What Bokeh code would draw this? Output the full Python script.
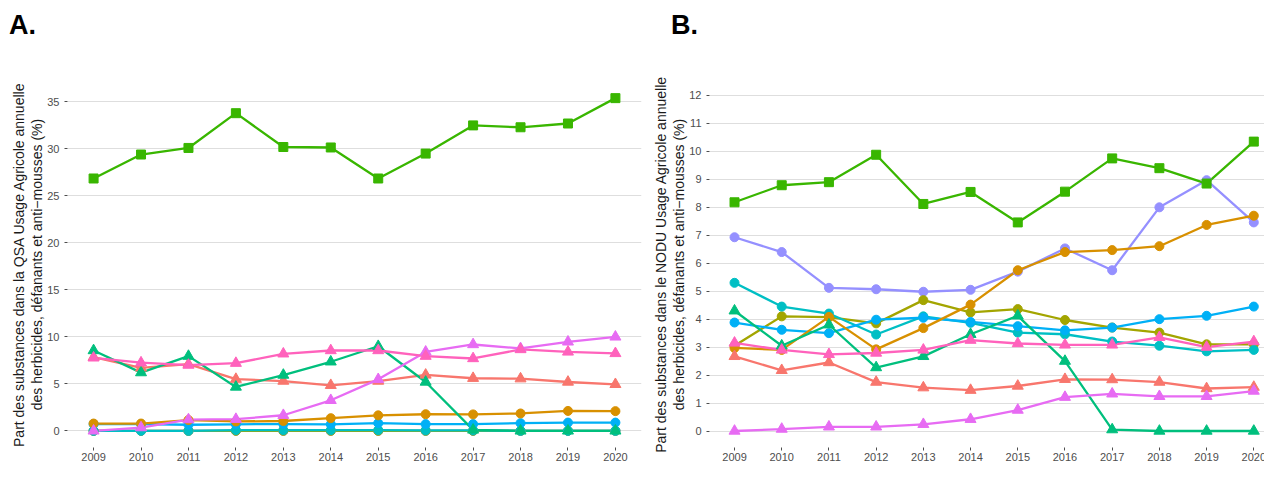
from bokeh.plotting import figure
from bokeh.layouts import row, column
from bokeh.models import Div, FixedTicker, Title
from bokeh.embed import file_html
from bokeh.resources import INLINE

years = [2009, 2010, 2011, 2012, 2013, 2014, 2015, 2016, 2017, 2018, 2019, 2020]

# Panel A : QSA (%)
qsa_salmon = [7.85, 6.7, 7.1, 5.5, 5.3, 4.85, 5.3, 5.95, 5.6, 5.55, 5.2, 4.95]
qsa_orange = [0.78, 0.78, 1.15, 1.0, 1.05, 1.35, 1.65, 1.77, 1.75, 1.85, 2.12, 2.1]
qsa_olive = [0.0, 0.0, 0.0, 0.0, 0.0, 0.0, 0.0, 0.0, 0.0, 0.0, 0.0, 0.0]
qsa_green = [26.85, 29.4, 30.1, 33.8, 30.2, 30.15, 26.85, 29.5, 32.5, 32.3, 32.7, 35.4]
qsa_tealgreen = [8.55, 6.2, 7.95, 4.67, 5.94, 7.35, 9.0, 5.2, 0.1, 0.0, 0.0, 0.0]
qsa_cyan = [0.0, 0.0, 0.0, 0.08, 0.08, 0.08, 0.08, 0.05, 0.05, 0.0, 0.0, 0.0]
qsa_blue = [0.72, 0.72, 0.65, 0.7, 0.72, 0.7, 0.82, 0.72, 0.72, 0.82, 0.88, 0.88]
qsa_purple = [0.0, 0.0, 0.0, 0.0, 0.0, 0.0, 0.0, 0.0, 0.0, 0.0, 0.0, 0.0]
qsa_magenta = [0.0, 0.35, 1.2, 1.24, 1.66, 3.25, 5.48, 8.4, 9.19, 8.77, 9.47, 10.0]
qsa_pink = [7.77, 7.25, 7.0, 7.2, 8.2, 8.55, 8.55, 7.95, 7.7, 8.66, 8.4, 8.24]

# Panel B : NODU (%)
nodu_salmon = [2.67, 2.17, 2.45, 1.75, 1.55, 1.46, 1.61, 1.85, 1.84, 1.75, 1.52, 1.57]
nodu_orange = [2.97, 2.9, 4.08, 2.92, 3.68, 4.52, 5.75, 6.4, 6.47, 6.61, 7.37, 7.7]
nodu_olive = [3.05, 4.1, 4.07, 3.85, 4.68, 4.24, 4.36, 3.97, 3.7, 3.52, 3.1, 3.1]
nodu_green = [8.18, 8.79, 8.9, 9.88, 8.12, 8.55, 7.46, 8.56, 9.75, 9.4, 8.85, 10.35]
nodu_tealgreen = [4.3, 3.05, 3.8, 2.27, 2.67, 3.46, 4.12, 2.5, 0.05, 0.0, 0.0, 0.0]
nodu_cyan = [5.3, 4.45, 4.2, 3.45, 4.1, 3.87, 3.52, 3.46, 3.2, 3.05, 2.85, 2.9]
nodu_blue = [3.88, 3.62, 3.5, 3.98, 4.05, 3.9, 3.75, 3.6, 3.7, 4.0, 4.12, 4.45]
nodu_purple = [6.93, 6.4, 5.12, 5.07, 4.98, 5.05, 5.7, 6.53, 5.75, 8.0, 8.97, 7.46]
nodu_magenta = [0.0, 0.07, 0.15, 0.15, 0.24, 0.42, 0.75, 1.21, 1.33, 1.24, 1.24, 1.43]
nodu_pink = [3.15, 2.9, 2.74, 2.79, 2.9, 3.25, 3.13, 3.08, 3.08, 3.35, 3.0, 3.2]

colors = {
    "salmon": "#F8766D", "orange": "#D89000", "olive": "#A3A500", "green": "#39B600",
    "tealgreen": "#00BF7D", "cyan": "#00BFC4", "blue": "#00B0F6", "purple": "#9590FF",
    "magenta": "#E76BF3", "pink": "#FF62BC",
}
markers = {
    "salmon": "triangle", "orange": "circle", "olive": "circle", "green": "square",
    "tealgreen": "triangle", "cyan": "circle", "blue": "circle", "purple": "circle",
    "magenta": "triangle", "pink": "triangle",
}
order = ["purple", "olive", "cyan", "blue", "orange", "salmon", "tealgreen", "green", "magenta", "pink"]

series_a = {"salmon": qsa_salmon, "orange": qsa_orange, "olive": qsa_olive, "green": qsa_green,
            "tealgreen": qsa_tealgreen, "cyan": qsa_cyan, "blue": qsa_blue, "purple": qsa_purple,
            "magenta": qsa_magenta, "pink": qsa_pink}
series_b = {"salmon": nodu_salmon, "orange": nodu_orange, "olive": nodu_olive, "green": nodu_green,
            "tealgreen": nodu_tealgreen, "cyan": nodu_cyan, "blue": nodu_blue, "purple": nodu_purple,
            "magenta": nodu_magenta, "pink": nodu_pink}

FONT = "Liberation Sans"
label_a1 = "Part des substances dans la QSA Usage Agricole annuelle"
label_b1 = "Part des substances dans le NODU Usage Agricole annuelle"
label_2 = "des herbicides, défanants et anti\u2212mousses (%)"


def make_plot(series, x_range, y_range, yticks, line1, line2, frame_w, border_left, border_right):
    p = figure(output_backend="svg", toolbar_location=None,
               frame_width=frame_w, frame_height=366,
               min_border_left=border_left, min_border_right=border_right,
               min_border_top=33, min_border_bottom=28,
               x_range=x_range, y_range=y_range)
    p.outline_line_color = None
    p.background_fill_color = "white"
    p.xgrid.grid_line_color = None
    p.ygrid.grid_line_color = "#DEDEDE"
    p.ygrid.grid_line_width = 1
    p.xaxis.ticker = FixedTicker(ticks=years)
    p.yaxis.ticker = FixedTicker(ticks=yticks)
    for ax in (p.xaxis[0], p.yaxis[0]):
        ax.axis_line_color = None
        ax.major_tick_line_color = "#4D4D4D"
        ax.major_tick_in = 0
        ax.major_tick_out = 3
        ax.minor_tick_line_color = None
        ax.major_label_text_font = FONT
        ax.major_label_text_font_size = "11px"
        ax.major_label_text_color = "#4D4D4D"
    p.xaxis.major_label_standoff = 2
    p.yaxis.major_label_standoff = 5
    for txt in (line2, line1):
        t = Title(text=txt, align="center", text_font=FONT, text_font_size="14px",
                  text_font_style="normal", text_color="#1A1A1A", standoff=0)
        p.add_layout(t, "left")
    for key in order:
        vals = series[key]
        c = colors[key]
        p.line(years, vals, line_color=c, line_width=2.3)
    for key in order:
        vals = series[key]
        c = colors[key]
        m = markers[key]
        size = 11 if m == "triangle" else 9
        p.scatter(years, vals, marker=m, size=size, fill_color=c, line_color=c)
    return p


pa = make_plot(series_a, (2008.45, 2020.55), (-1.77, 37.17), [0, 5, 10, 15, 20, 25, 30, 35],
               label_a1, label_2, 574, 67, 9)
pb = make_plot(series_b, (2008.47, 2020.29), (-0.59, 12.5), list(range(0, 13)),
               label_b1, label_2, 558, 56, 0)

head_style = {"font-size": "27px", "font-weight": "bold", "font-family": FONT, "color": "#000000",
              "line-height": "30px"}
da = Div(text="A.", width=650, height=48, margin=(0, 0, 0, 0),
         styles=dict(head_style, **{"padding-left": "9px", "padding-top": "10px"}))
db = Div(text="B.", width=614, height=48, margin=(0, 0, 0, 0),
         styles=dict(head_style, **{"padding-left": "21px", "padding-top": "10px"}))

layout = column(row(da, db), row(pa, pb))

open("out.html", "w").write(file_html(layout, INLINE))
